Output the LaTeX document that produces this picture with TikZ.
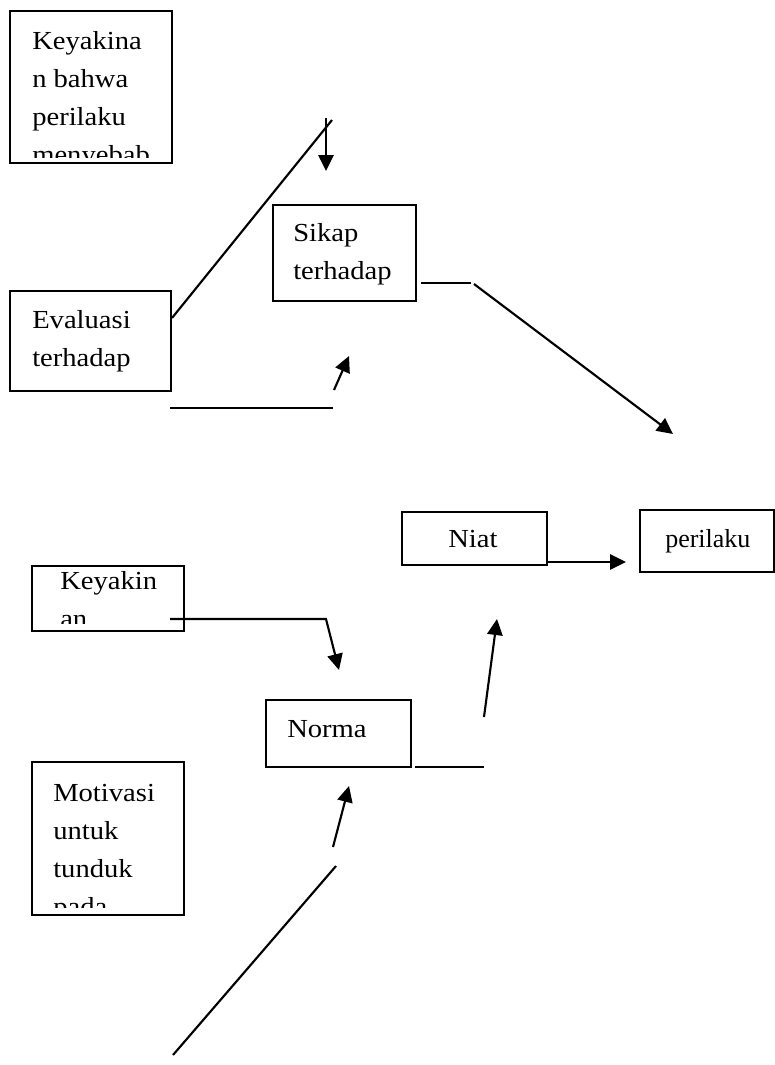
\documentclass[tikz,border=0pt]{standalone}
\usepackage{fontspec}
\setmainfont[FakeStretch=1.1]{Liberation Serif}
\newfontfamily\plainserif{Liberation Serif}
\usetikzlibrary{arrows.meta}
\newcommand\mysz{\fontsize{19.5pt}{28.5pt}\selectfont}
\newcommand\mybox[5]{\node[boxst, anchor=north west, minimum width={(#4-#2)*0.75pt}, minimum height={(#5-#3)*0.75pt}] (#1) at (#2,#3) {};}
\tikzset{
  boxst/.style={draw, line width=1.6pt, inner sep=0pt, outer sep=0pt},
  txt/.style={inner sep=0pt, align=left, font=\mysz, anchor=base west},
  ln/.style={line width=1.6pt},
  arr/.style={line width=1.6pt, -{Triangle[length=12pt, width=11.5pt]}}
}
\begin{document}
\begin{tikzpicture}[x=0.75pt,y=-0.75pt]
\useasboundingbox (0,0) rectangle (775,1065);
\fill[white] (0,0) rectangle (775,1065);
% boxes
\mybox{b1}{10}{11}{172}{163}
\mybox{bE}{10}{291}{171}{391}
\mybox{bS}{273}{205}{416}{301}
\mybox{bN}{402}{512}{547}{565}
\mybox{bP}{640}{510}{774}{572}
\mybox{bK}{32}{566}{184}{631}
\mybox{bNo}{266}{700}{411}{767}
\mybox{bM}{32}{762}{184}{915}
% texts
\begin{scope}
\clip (10,11) rectangle (172,157);
\node[txt] (t1) at (32,163) {Keyakina\\n bahwa\\perilaku\\menyebab};
\end{scope}
\node[txt] (tE) at (32,366) {Evaluasi\\terhadap};
\node[txt] (tS) at (293,279) {Sikap\\terhadap};
\node[txt] (tN) at (448,547) {Niat};
\node[txt, font=\mysz\plainserif] (tP) at (665,547) {perilaku};
\begin{scope}
\clip (32,566) rectangle (184,623);
\node[txt] (tK) at (60,627) {Keyakin\\an};
\end{scope}
\node[txt] (tNo) at (287,737) {Norma};
\begin{scope}
\clip (32,762) rectangle (184,907);
\node[txt] (tM) at (53,915) {Motivasi\\untuk\\tunduk\\pada};
\end{scope}
% connector points
\coordinate (e1) at (172,318);
\coordinate (e2) at (332,120);
\coordinate (a1s) at (326,118);
\coordinate (a1e) at (326,171);
\coordinate (s1) at (421,283);
\coordinate (s2) at (471,283);
\coordinate (s3) at (474,284);
\coordinate (s4) at (673,434);
\coordinate (h1) at (170,408);
\coordinate (h2) at (333,408);
\coordinate (a2s) at (334,390);
\coordinate (a2e) at (349,356);
\coordinate (n1) at (547,562);
\coordinate (n2) at (626,562);
\coordinate (k1) at (170,619);
\coordinate (k2) at (326,619);
\coordinate (k3) at (339,670);
\coordinate (m1) at (415,767);
\coordinate (m2) at (484,767);
\coordinate (m3) at (484,717);
\coordinate (m4) at (497,619);
\coordinate (q1) at (333,847);
\coordinate (q2) at (349,786);
\coordinate (q3) at (336,866);
\coordinate (q4) at (173,1055);
% connectors
\draw[ln] (e1) -- (e2);
\draw[arr] (a1s) -- (a1e);
\draw[ln] (s1) -- (s2);
\draw[arr] (s3) -- (s4);
\draw[ln] (h1) -- (h2);
\draw[arr] (a2s) -- (a2e);
\draw[arr] (n1) -- (n2);
\draw[arr] (k1) -- (k2) -- (k3);
\draw[ln] (m1) -- (m2);
\draw[arr] (m3) -- (m4);
\draw[arr] (q1) -- (q2);
\draw[ln] (q3) -- (q4);
\end{tikzpicture}
\end{document}
